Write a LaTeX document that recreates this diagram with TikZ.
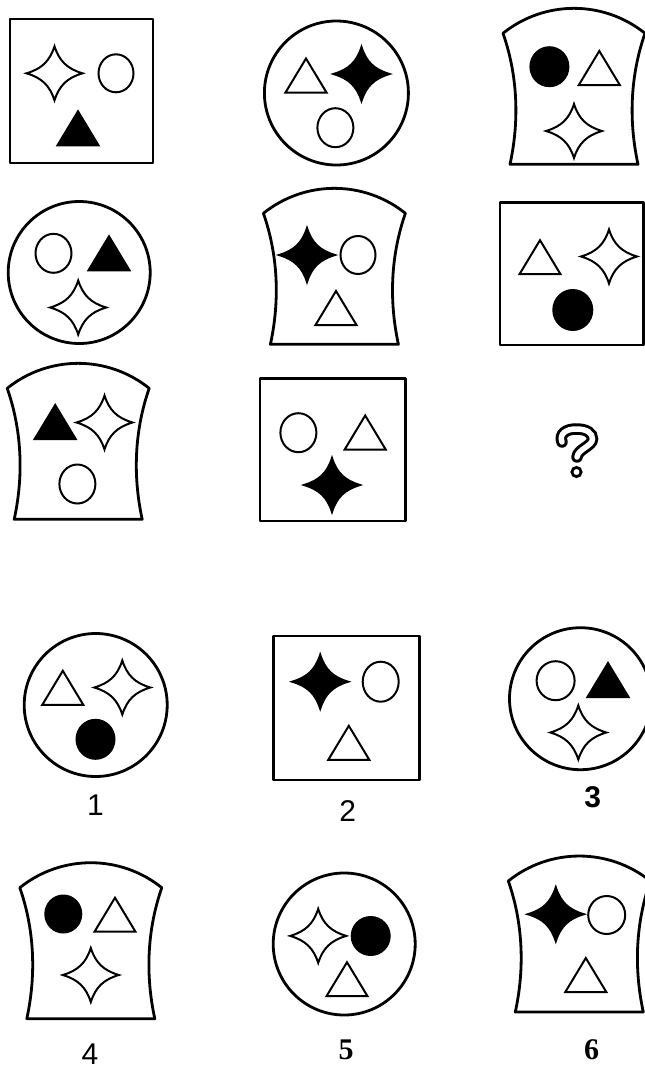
\documentclass[tikz,border=0pt]{standalone}
\usepackage{fontspec}
\setmainfont{Liberation Sans}
\newfontfamily\serifnum{Liberation Serif}
\tikzset{
  frame/.style={draw, line width=2.8pt, line join=round},
  openpiece/.style={draw, fill=white, line width=2pt},
  darkpiece/.style={draw, fill=black, line width=2pt},
  optnum/.style={font=\fontsize{30}{32}\selectfont, inner sep=0pt},
  boldnum/.style={font=\fontsize{30}{32}\selectfont\bfseries, inner sep=0pt},
  pics/sparkle/.style={code={
    \path[pic actions] (28,0) .. controls (12.6,-4.6) and (4.8,-12.2) .. (0,-27)
      .. controls (-4.8,-12.2) and (-12.6,-4.6) .. (-28,0)
      .. controls (-12.6,4.6) and (-4.8,12.2) .. (0,27)
      .. controls (4.8,12.2) and (12.6,4.6) .. cycle;
  }},
  pics/tri/.style={code={
    \path[pic actions] (-20.5,17) -- (0,-17) -- (20.5,17) -- cycle;
  }},
  pics/barrel/.style={code={
    \path[pic actions] (-71,25) .. controls (-29.5,-8.3) and (29.5,-8.3) .. (71,25)
      .. controls (57,65) and (54,110) .. (64,156) -- (-64,156)
      .. controls (-54,110) and (-57,65) .. cycle;
  }}
}

\begin{document}
\begin{tikzpicture}[x=1pt, y=-1pt]

  \useasboundingbox (0,0) rectangle (645,1072);

  % row 1
  \draw[frame] (10,19) rectangle (153,163);
  \pic[openpiece] at (54.5,73.3) {sparkle};
  \draw[openpiece] (116,73.3) ellipse [x radius=17.5pt, y radius=19pt];
  \pic[darkpiece] at (78,128.3) {tri};

  \draw[frame] (336.4,93) circle (72pt);
  \pic[openpiece] at (306,75.5) {tri};
  \pic[darkpiece] at (361.5,74) {sparkle};
  \draw[openpiece] (335.4,127.7) ellipse [x radius=18pt, y radius=19.5pt];

  \pic[frame] at (574,8.3) {barrel};
  \draw[darkpiece] (549.4,66.7) ellipse [x radius=19pt, y radius=19.5pt];
  \pic[openpiece] at (599.3,68) {tri};
  \pic[openpiece] at (574,131) {sparkle};

  % row 2
  \draw[frame] (79.2,272.5) circle (71pt);
  \draw[openpiece] (53.5,253.3) ellipse [x radius=18pt, y radius=19.5pt];
  \pic[darkpiece] at (109,253.3) {tri};
  \pic[openpiece] at (78.2,307.5) {sparkle};

  \pic[frame] at (334.4,188.3) {barrel};
  \pic[darkpiece] at (307,255) {sparkle};
  \draw[openpiece] (358,255) ellipse [x radius=17.5pt, y radius=19pt];
  \pic[openpiece] at (336,308) {tri};

  \draw[frame] (500,202.7) rectangle (643.5,345);
  \pic[openpiece] at (540,257.2) {tri};
  \pic[openpiece] at (609,256.5) {sparkle};
  \draw[darkpiece] (572.8,310) ellipse [x radius=19.5pt, y radius=20pt];

  % row 3
  \pic[frame] at (78.2,363.3) {barrel};
  \pic[darkpiece] at (55.2,422) {tri};
  \pic[openpiece] at (104.5,422.5) {sparkle};
  \draw[openpiece] (77.4,484) ellipse [x radius=18pt, y radius=19.5pt];

  \draw[frame] (260,378.3) rectangle (405.3,521);
  \draw[openpiece] (298.4,432.7) ellipse [x radius=18pt, y radius=19.5pt];
  \pic[openpiece] at (365.2,432.5) {tri};
  \pic[darkpiece] at (332,485) {sparkle};

  % the missing one
  \draw[line width=3pt, double=white, double distance=5.5pt, line cap=round]
    (562,442) .. controls (559,434) and (566,429) .. (576,429)
    .. controls (587,429) and (592.5,433) .. (592.5,439)
    .. controls (592.5,446) and (578,449) .. (577,457);
  \draw[line width=2.8pt] (576.5,472) circle (4.6pt);

  % answers 1-3
  \draw[frame] (95.7,705) circle (71.5pt);
  \pic[openpiece] at (62.8,687.8) {tri};
  \pic[openpiece] at (122.3,687.5) {sparkle};
  \draw[darkpiece] (95.5,739.3) ellipse [x radius=19pt, y radius=19.5pt];
  \node[optnum] (num1) at (95.5,805) {1};

  \draw[frame] (273.7,636) rectangle (419.8,780);
  \pic[darkpiece] at (320.2,681.7) {sparkle};
  \draw[openpiece] (380.7,681.7) ellipse [x radius=18pt, y radius=20pt];
  \pic[openpiece] at (348.8,742.8) {tri};
  \node[optnum] (num2) at (347.7,811) {2};

  \draw[frame] (580.5,698.7) circle (71pt);
  \draw[openpiece] (555.6,680.7) ellipse [x radius=19pt, y radius=19.5pt];
  \pic[darkpiece] at (608,680) {tri};
  \pic[openpiece] at (578.3,732.5) {sparkle};
  \node[boldnum] (num3) at (592.6,797) {3};

  % answers 4-6
  \pic[frame] at (90.8,862.7) {barrel};
  \draw[darkpiece] (63.3,914) ellipse [x radius=18pt, y radius=18.5pt];
  \pic[openpiece] at (115,914.7) {tri};
  \pic[openpiece] at (90.8,975) {sparkle};
  \node[optnum] (num4) at (90,1054) {4};

  \draw[frame] (344.2,944) circle (71pt);
  \pic[openpiece] at (318.2,935.9) {sparkle};
  \draw[darkpiece] (370.7,936) ellipse [x radius=19pt, y radius=19pt];
  \pic[openpiece] at (347,979.2) {tri};
  \node[boldnum, font=\fontsize{30}{32}\selectfont\serifnum\bfseries] (num5) at (346,1050) {5};

  \pic[frame] at (579.3,856) {barrel};
  \pic[darkpiece] at (555.8,914.2) {sparkle};
  \draw[openpiece] (606.7,915) ellipse [x radius=18.5pt, y radius=19pt];
  \pic[openpiece] at (585.8,975) {tri};
  \node[boldnum, font=\fontsize{30}{32}\selectfont\serifnum\bfseries] (num6) at (591.7,1050) {6};

\end{tikzpicture}
\end{document}
